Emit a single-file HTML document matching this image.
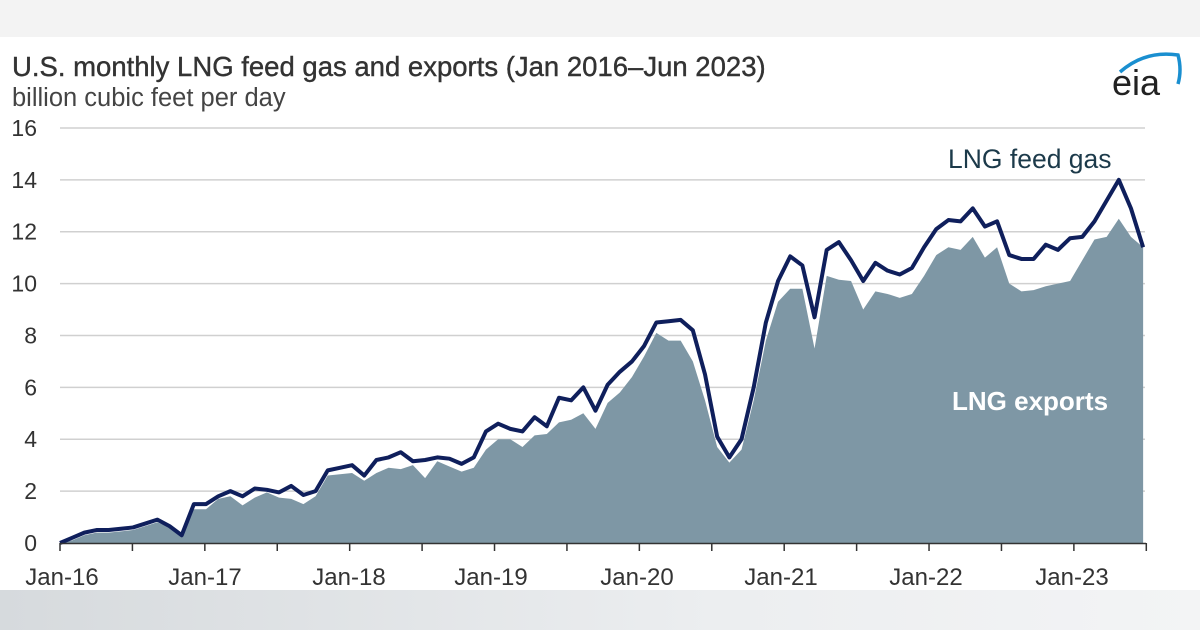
<!DOCTYPE html>
<html><head><meta charset="utf-8"><style>
body{margin:0;width:1200px;height:630px;overflow:hidden;background:#fff;font-family:"Liberation Sans",Arial,sans-serif}
#top{position:absolute;left:0;top:0;width:1200px;height:37px;background:#f3f3f3}
#bot{position:absolute;left:0;top:590px;width:1200px;height:40px;background:linear-gradient(90deg,#d6dadd,#eceef0 60%,#f3f4f5)}
svg{position:absolute;left:0;top:0}
</style></head><body>
<div id="top"></div><div id="bot"></div>
<svg id="s" width="1200" height="630" xmlns="http://www.w3.org/2000/svg">
<text x="12" y="76" font-size="27.5" fill="#333" stroke="#333" stroke-width="0.4" font-family="Liberation Sans, sans-serif">U.S. monthly LNG feed gas and exports (Jan 2016–Jun 2023)</text>
<text x="12" y="106" font-size="25.5" fill="#444" font-family="Liberation Sans, sans-serif">billion cubic feet per day</text>
<text x="1112" y="95" font-size="36" fill="#222" font-family="Liberation Sans, sans-serif">eia</text>
<path d="M1120 72 Q1145 50 1178 55 Q1182 70 1178 84" fill="none" stroke="#1a8fd0" stroke-width="3.5"/>
<g id="g"></g>
<text x="948" y="168" font-size="26.5" fill="#1c3a4a" font-family="Liberation Sans, sans-serif">LNG feed gas</text>
<text x="952" y="410" font-size="26" font-weight="bold" fill="#fff" font-family="Liberation Sans, sans-serif">LNG exports</text>
</svg>
<script>
var feed=[0,0.2,0.4,0.5,0.5,0.55,0.6,0.75,0.9,0.65,0.3,1.5,
1.5,1.8,2.0,1.8,2.1,2.05,1.95,2.2,1.85,2.0,2.8,2.9,
3.0,2.6,3.2,3.3,3.5,3.15,3.2,3.3,3.25,3.05,3.3,4.3,
4.6,4.4,4.3,4.85,4.5,5.6,5.5,6.0,5.1,6.1,6.6,7.0,
7.6,8.5,8.55,8.6,8.2,6.5,4.1,3.3,4.0,6.0,8.5,10.1,
11.05,10.7,8.7,11.3,11.6,10.9,10.1,10.8,10.5,10.35,10.6,11.4,
12.1,12.45,12.4,12.9,12.2,12.4,11.1,10.95,10.95,11.5,11.3,11.75,
11.8,12.4,13.2,14.0,12.9,11.4];
var exp=[0,0.1,0.3,0.4,0.4,0.45,0.5,0.65,0.8,0.6,0.3,1.3,
1.3,1.7,1.8,1.45,1.75,1.95,1.75,1.7,1.5,1.8,2.6,2.65,
2.7,2.4,2.7,2.9,2.85,3.0,2.5,3.15,2.95,2.75,2.9,3.6,
4.0,4.0,3.7,4.15,4.2,4.65,4.75,5.0,4.4,5.4,5.8,6.4,
7.2,8.1,7.8,7.8,7.0,5.5,3.7,3.1,3.6,5.5,7.8,9.3,
9.8,9.8,7.5,10.3,10.15,10.1,9.0,9.7,9.6,9.45,9.6,10.3,
11.1,11.4,11.3,11.8,11.0,11.4,10.0,9.7,9.75,9.9,10.0,10.1,
10.9,11.7,11.8,12.5,11.8,11.4];
function X(i){return 60+i*12.17}function Y(v){return 543-v*25.94}
var h='';
for(var k=0;k<=16;k+=2){var y=Y(k);if(k>0)h+='<line x1="60" x2="1145" y1="'+y+'" y2="'+y+'" stroke="#d0d0d0" stroke-width="1.5"/>';
h+='<text x="37" y="'+(y+8)+'" text-anchor="end" font-size="23" fill="#333" font-family="Liberation Sans, sans-serif">'+k+'</text>';}
var a='M60 543';for(var i=0;i<exp.length;i++)a+=' L'+X(i)+' '+Y(exp[i]);a+=' L'+X(exp.length-1)+' 543Z';
h+='<path d="'+a+'" fill="#7e97a5"/>';
var l='';for(var i=0;i<feed.length;i++)l+=(i?' L':'M')+X(i)+' '+Y(feed[i]);
h+='<path d="'+l+'" fill="none" stroke="#0f1f5c" stroke-width="4" stroke-linejoin="round"/>';
h+='<line x1="60" x2="1146" y1="543.5" y2="543.5" stroke="#333" stroke-width="1.5"/>';
var tx=[62,205,349,491,637,781,926,1072],lb=['Jan-16','Jan-17','Jan-18','Jan-19','Jan-20','Jan-21','Jan-22','Jan-23'];
for(var i=0;i<8;i++){h+='<text x="'+tx[i]+'" y="585" text-anchor="middle" font-size="24" fill="#333" font-family="Liberation Sans, sans-serif">'+lb[i]+'</text>';}
for(var m=0;m<=90;m+=6){var x=60+m*12.07;h+='<line x1="'+x+'" x2="'+x+'" y1="543" y2="551" stroke="#333" stroke-width="1.5"/>';}
document.getElementById('g').innerHTML=h;
</script>
</body></html>
